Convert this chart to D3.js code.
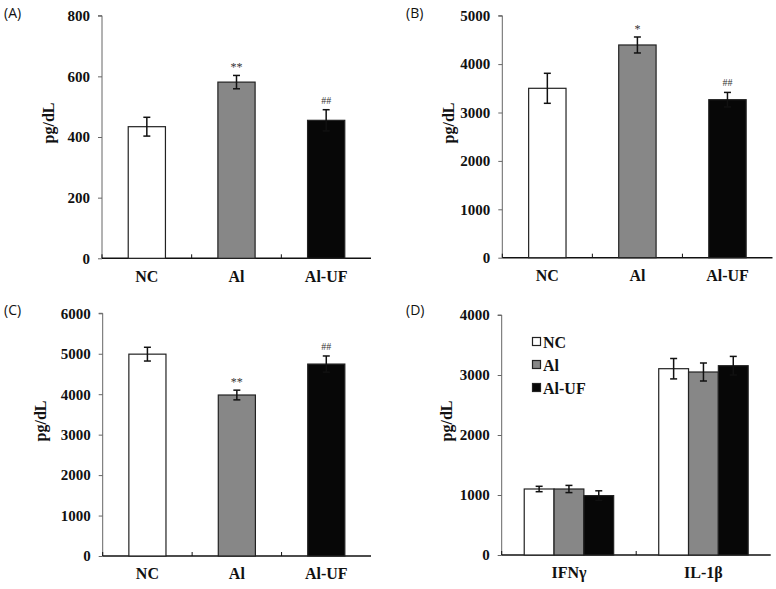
<!DOCTYPE html>
<html><head><meta charset="utf-8">
<script src="https://cdn.jsdelivr.net/npm/d3@7"></script>
<style>body{margin:0;background:#fff}svg{display:block}</style>
</head><body>
<svg id="c" width="776" height="589"></svg>
<script>
// ---- data ----
const groups = ["NC", "Al", "Al-UF"];
const groupColors = ["#ffffff", "#878787", "#070707"];

const aValues = [434, 581, 455];
const aErrors = [31, 22, 35];
const aMarks = ["", "**", "##"];
const aTicks = [0, 200, 400, 600, 800];

const bValues = [3500, 4395, 3265];
const bErrors = [310, 165, 150];
const bMarks = ["", "*", "##"];
const bTicks = [0, 1000, 2000, 3000, 4000, 5000];

const cValues = [4990, 3980, 4745];
const cErrors = [170, 120, 200];
const cMarks = ["", "**", "##"];
const cTicks = [0, 1000, 2000, 3000, 4000, 5000, 6000];

const dCategories = ["IFN\u03b3", "IL-1\u03b2"];
const dNC = [1100, 3105];
const dAl = [1100, 3050];
const dAlUF = [990, 3155];
const dNCErr = [45, 170];
const dAlErr = [60, 150];
const dAlUFErr = [80, 155];
const dTicks = [0, 1000, 2000, 3000, 4000];

const svg = d3.select("#c");
const serif = "'Liberation Serif','Times New Roman',serif";

function frame(g, x0, x1, y0, y1, yScale, ticks, bandScale, tickXs) {
  // y axis
  const ya = d3.axisLeft(yScale).tickValues(ticks).tickSize(4).tickPadding(8).tickFormat(d3.format("d"));
  const yg = g.append("g").attr("transform", `translate(${x0},0)`).call(ya);
  yg.select(".domain").attr("stroke", "#666").attr("stroke-width", 1).attr("d", `M-4,${y1}H0V${y0}`);
  yg.selectAll(".tick line").attr("stroke", "#666");
  yg.selectAll("text").attr("font-family", serif).attr("font-weight", "bold").attr("font-size", 15).attr("fill", "#111");
  // x axis
  const xa = d3.axisBottom(bandScale).tickSize(0).tickPadding(12);
  const xg = g.append("g").attr("transform", `translate(0,${y0})`).call(xa);
  xg.select(".domain").remove();
  xg.selectAll("text").attr("font-family", serif).attr("font-weight", "bold").attr("font-size", 16).attr("fill", "#111");
  g.append("line").attr("x1", x0).attr("x2", x1).attr("y1", y0).attr("y2", y0).attr("stroke", "#111").attr("stroke-width", 1.6);
  g.selectAll(".xt").data(tickXs).join("line").attr("class", "xt")
    .attr("x1", d => d).attr("x2", d => d).attr("y1", y0).attr("y2", y0 - 4)
    .attr("stroke", "#111").attr("stroke-width", 1);
}

function ylabel(g, x, y) {
  g.append("text").attr("transform", `translate(${x},${y}) rotate(-90)`).attr("text-anchor", "middle")
    .attr("font-family", serif).attr("font-weight", "bold").attr("font-size", 16).attr("fill", "#111").text("pg/dL");
}

function panelLabel(x, y, t) {
  svg.append("text").attr("x", x).attr("y", y).attr("font-family", "'Open Sans','Noto Sans',sans-serif")
    .attr("font-size", 14).attr("fill", "#111").text(t);
}

function errBar(g, cx, yScale, v, e, cap) {
  const top = yScale(v + e), bot = yScale(v - e);
  g.append("line").attr("x1", cx).attr("x2", cx).attr("y1", top).attr("y2", bot).attr("stroke", "#111").attr("stroke-width", 1.5);
  g.append("line").attr("x1", cx - cap).attr("x2", cx + cap).attr("y1", top).attr("y2", top).attr("stroke", "#111").attr("stroke-width", 1.5);
  g.append("line").attr("x1", cx - cap).attr("x2", cx + cap).attr("y1", bot).attr("y2", bot).attr("stroke", "#111").attr("stroke-width", 1.5);
}

function simplePanel(opt) {
  const g = svg.append("g");
  const y = d3.scaleLinear().domain([0, opt.ticks[opt.ticks.length - 1]]).range([opt.y0, opt.y1]);
  const x = d3.scaleBand().domain(groups).range([opt.x0, opt.x1]).padding(0);
  const tickXs = [opt.x0].concat(groups.slice(1).map(d => x(d)));
  frame(g, opt.x0, opt.x1, opt.y0, opt.y1, y, opt.ticks, x, tickXs);
  const bw = x.bandwidth() * 0.415;
  groups.forEach((k, i) => {
    const cx = x(k) + x.bandwidth() / 2;
    g.append("rect").attr("x", cx - bw / 2).attr("y", y(opt.values[i])).attr("width", bw)
      .attr("height", opt.y0 - y(opt.values[i])).attr("fill", groupColors[i]).attr("stroke", "#222").attr("stroke-width", 1.2);
    errBar(g, cx, y, opt.values[i], opt.errors[i], 3.5);
    if (opt.marks[i]) {
      g.append("text").attr("x", cx).attr("y", y(opt.values[i] + opt.errors[i]) - (opt.marks[i][0] === "*" ? 4 : 6))
        .attr("text-anchor", "middle").attr("font-family", serif).attr("font-size", opt.marks[i][0] === "*" ? 12 : 10)
        .attr("fill", "#333").text(opt.marks[i]);
    }
  });
  ylabel(g, opt.labX, opt.labY);
}

simplePanel({x0: 102, x1: 371, y0: 258.3, y1: 15.7, ticks: aTicks, values: aValues, errors: aErrors, marks: aMarks, labX: 54, labY: 123});
simplePanel({x0: 502.3, x1: 772.5, y0: 257.7, y1: 15.7, ticks: bTicks, values: bValues, errors: bErrors, marks: bMarks, labX: 454, labY: 123});
simplePanel({x0: 102.7, x1: 371, y0: 556, y1: 313.3, ticks: cTicks, values: cValues, errors: cErrors, marks: cMarks, labX: 46, labY: 421});

// panel D
(function () {
  const g = svg.append("g");
  const x0 = 501.7, x1 = 770.7, y0 = 555, y1 = 315;
  const y = d3.scaleLinear().domain([0, dTicks[dTicks.length - 1]]).range([y0, y1]);
  const x = d3.scaleBand().domain(dCategories).range([x0, x1]).padding(0);
  frame(g, x0, x1, y0, y1, y, dTicks, x, [x0, x(dCategories[1])]);
  const inner = d3.scaleBand().domain(groups).range([0, x.bandwidth() * 0.665]).padding(0);
  const series = [dNC, dAl, dAlUF], errs = [dNCErr, dAlErr, dAlUFErr];
  dCategories.forEach((c, ci) => {
    const gx = x(c) + (x.bandwidth() - x.bandwidth() * 0.665) / 2;
    groups.forEach((k, i) => {
      const v = series[i][ci];
      g.append("rect").attr("x", gx + inner(k)).attr("y", y(v)).attr("width", inner.bandwidth())
        .attr("height", y0 - y(v)).attr("fill", groupColors[i]).attr("stroke", "#222").attr("stroke-width", 1.2);
    });
    groups.forEach((k, i) => {
      errBar(g, gx + inner(k) + inner.bandwidth() / 2, y, series[i][ci], errs[i][ci], 3.5);
    });
  });
  // legend
  const lg = g.append("g");
  groups.forEach((k, i) => {
    const ly = 342 + i * 23;
    lg.append("rect").attr("x", 532.5).attr("y", ly - 4.5).attr("width", 8).attr("height", 8)
      .attr("fill", groupColors[i]).attr("stroke", "#222").attr("stroke-width", 1.2);
    lg.append("text").attr("x", 543).attr("y", ly + 5.5).attr("font-family", serif).attr("font-weight", "bold")
      .attr("font-size", 16).attr("fill", "#111").text(k);
  });
  ylabel(g, 452, 421);
})();

panelLabel(4, 18, "(A)");
panelLabel(406, 18, "(B)");
panelLabel(4, 315, "(C)");
panelLabel(406, 315, "(D)");
</script>
</body></html>
